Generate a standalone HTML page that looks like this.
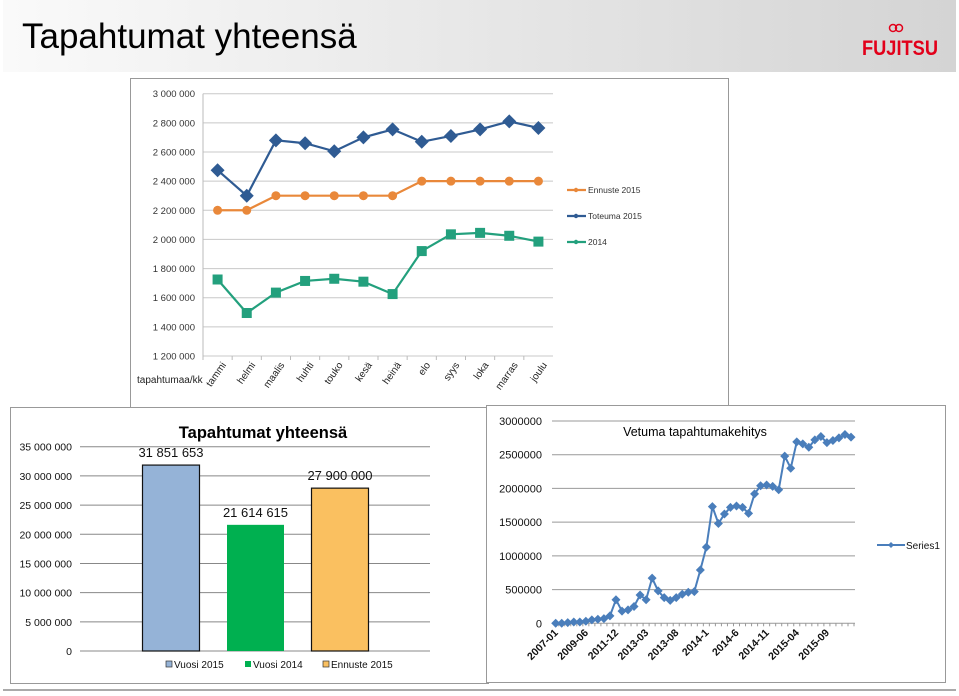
<!DOCTYPE html>
<html><head><meta charset="utf-8"><style>
body{margin:0;width:959px;height:696px;background:#fff;overflow:hidden;font-family:"Liberation Sans",sans-serif}
svg{position:absolute;left:0;top:0}
</style></head><body>
<svg width="959" height="696">
<defs><linearGradient id="hg" x1="0" x2="1"><stop offset="0" stop-color="#fafafa"/><stop offset="1" stop-color="#d4d4d4"/></linearGradient></defs>
<rect x="3" y="0" width="953" height="72" fill="url(#hg)"/>
<text x="22" y="48" font-size="35" fill="#000">Tapahtumat yhteensä</text>
<g>
<text x="862" y="55" font-size="21" font-weight="bold" fill="#e2001a" textLength="76" lengthAdjust="spacingAndGlyphs">FUJITSU</text>
<circle cx="893" cy="28" r="3.5" fill="none" stroke="#e2001a" stroke-width="1.5"/><circle cx="899" cy="28" r="3.5" fill="none" stroke="#e2001a" stroke-width="1.5"/>
</g>
<line x1="3" y1="690" x2="956" y2="690" stroke="#aaa" stroke-width="2"/>
<rect x="130.5" y="78.5" width="598" height="330" fill="#fff" stroke="#999"/>
<g id="top"></g>
<rect x="10.5" y="407.5" width="478" height="276" fill="#fff" stroke="#999"/>
<g id="bl"></g>
<rect x="486.5" y="405.5" width="459" height="277" fill="#fff" stroke="#999"/>
<g id="br"></g>
</svg>
<script>
const months=["tammi","helmi","maalis","huhti","touko","kesä","heinä","elo","syys","loka","marras","joulu"];
const toteuma2015=[2475000,2300000,2680000,2660000,2605000,2700000,2755000,2670000,2710000,2755000,2810000,2765000];
const ennuste2015=[2200000,2200000,2300000,2300000,2300000,2300000,2300000,2400000,2400000,2400000,2400000,2400000];
const vuosi2014=[1725000,1495000,1635000,1715000,1730000,1710000,1625000,1920000,2035000,2045000,2025000,1985000];
const topTicks=[1200000,1400000,1600000,1800000,2000000,2200000,2400000,2600000,2800000,3000000];
const totalCats=["Vuosi 2015","Vuosi 2014","Ennuste 2015"];
const totalVals=[31851653,21614615,27900000];
const totalLabels=["31 851 653","21 614 615","27 900 000"];
const totalTicks=[0,5000000,10000000,15000000,20000000,25000000,30000000,35000000];
const trendLabels=["2007-01","2009-06","2011-12","2013-03","2013-08","2014-1","2014-6","2014-11","2015-04","2015-09"];
const trendVals=[0,0,10000,20000,20000,30000,50000,60000,70000,110000,350000,180000,200000,250000,420000,350000,670000,480000,380000,340000,380000,430000,460000,470000,790000,1130000,1730000,1480000,1620000,1720000,1740000,1720000,1630000,1920000,2040000,2050000,2030000,1980000,2480000,2300000,2690000,2660000,2610000,2720000,2770000,2680000,2710000,2750000,2800000,2760000];
const trendTicks=[0,500000,1000000,1500000,2000000,2500000,3000000];
const NS="http://www.w3.org/2000/svg";
function mk(p,t,a,txt){const e=document.createElementNS(NS,t);for(const k in a)e.setAttribute(k,a[k]);if(txt!=null)e.textContent=txt;p.appendChild(e);return e;}
function sp(n){return String(n).replace(/\B(?=(\d{3})+(?!\d))/g," ");}
// TOP
(function(){
const g=document.getElementById('top');
const x0=203,x1=553,yA=356,yB=93.7,vmin=1200000,vmax=3000000;
const y=v=>yA-(v-vmin)/(vmax-vmin)*(yA-yB);
const step=(x1-x0)/months.length;const x=i=>x0+step*(i+0.5);
topTicks.forEach(t=>{
 let l=mk(g,'line',{x1:x0,x2:x1,y1:y(t),y2:y(t),stroke:'#c8c8c8','stroke-width':1});
 
 let tx=mk(g,'text',{x:195,y:y(t)+3.5,'font-size':9.5,'text-anchor':'end',fill:'#333'},sp(t));
 
});
mk(g,'line',{x1:x0,x2:x0,y1:yB,y2:yA,stroke:'#bbb'});
months.forEach((m,i)=>{
 mk(g,'line',{x1:x0+step*i,x2:x0+step*i,y1:yA,y2:yA+4,stroke:'#bbb'});
 const ax=x(i)+9,ay=yA+9;
 let tx=mk(g,'text',{x:ax,y:ay,'font-size':10,'text-anchor':'end',fill:'#222',transform:`rotate(-55 ${ax} ${ay})`},m);
 
});
let xt=mk(g,'text',{x:137,y:383,'font-size':10,fill:'#222'},'tapahtumaa/kk');

const series=[[ennuste2015,'#e9883a','c',"Ennuste 2015",190],[toteuma2015,'#2f5b93','d',"Toteuma 2015",216],[vuosi2014,'#23a07d','s',"2014",242]];
series.forEach(([d,c,sh,name,ly])=>{
 let p=mk(g,'polyline',{points:d.map((v,i)=>x(i)+','+y(v)).join(' '),fill:'none',stroke:c,'stroke-width':2.2});
 
 d.forEach((v,i)=>{const cx=x(i),cy=y(v);let e;
  if(sh=='c')e=mk(g,'circle',{cx,cy,r:4.5,fill:c});
  else if(sh=='d')e=mk(g,'polygon',{points:`${cx},${cy-7} ${cx+7},${cy} ${cx},${cy+7} ${cx-7},${cy}`,fill:c});
  else e=mk(g,'rect',{x:cx-5,y:cy-5,width:10,height:10,fill:c});
  });
 mk(g,'line',{x1:567,x2:586,y1:ly,y2:ly,stroke:c,'stroke-width':2.2});
 mk(g,'circle',{cx:576,cy:ly,r:2.2,fill:c});
 let t=mk(g,'text',{x:588,y:ly+3,'font-size':8.5,fill:'#333'},name);
 
});
})();
// BOTTOM LEFT
(function(){
const g=document.getElementById('bl');
const x0=80,x1=430,yA=651,yB=446.7,vmax=35000000;
const y=v=>yA-v/vmax*(yA-yB);
let tt=mk(g,'text',{x:263,y:438,'font-size':16.5,'font-weight':'bold','text-anchor':'middle',fill:'#000'},'Tapahtumat yhteensä');

totalTicks.forEach(t=>{
 let l=mk(g,'line',{x1:x0,x2:x1,y1:y(t),y2:y(t),stroke:'#888','stroke-width':1});
 
 let tx=mk(g,'text',{x:72,y:y(t)+4,'font-size':10.5,'text-anchor':'end',fill:'#111'},sp(t));
 
});
const cols=['#95b3d7','#00b050','#fac060'];const bw=57,bstart=128.75,step=84.5;
totalVals.forEach((v,i)=>{
 const cx=bstart+step*(i+0.5);
 let r=mk(g,'rect',{x:cx-bw/2,y:y(v),width:bw,height:yA-y(v),fill:cols[i],stroke:i==1?'none':'#111','stroke-width':1.2});
 
 let t=mk(g,'text',{x:cx,y:y(v)-8,'font-size':13,'text-anchor':'middle',fill:'#111'},totalLabels[i]);
 
});
const lx=[166,245,323];
totalCats.forEach((c,i)=>{
 mk(g,'rect',{x:lx[i],y:661,width:6,height:6,fill:cols[i],stroke:i==1?'none':'#333','stroke-width':0.7});
 let t=mk(g,'text',{x:lx[i]+8,y:668,'font-size':10,fill:'#111'},c);
 
});
})();
// BOTTOM RIGHT
(function(){
const g=document.getElementById('br');
const xf=555.7,xl=851,yA=623.3,yB=421,vmax=3000000;
const y=v=>yA-v/vmax*(yA-yB);
const step=(xl-xf)/(trendVals.length-1);const x=i=>xf+step*i;
let tt=mk(g,'text',{x:695,y:436,'font-size':12.5,'text-anchor':'middle',fill:'#000'},'Vetuma tapahtumakehitys');

trendTicks.forEach(t=>{
 let l=mk(g,'line',{x1:552,x2:855,y1:y(t),y2:y(t),stroke:'#999','stroke-width':1});
 
 let tx=mk(g,'text',{x:542,y:y(t)+4,'font-size':11,'text-anchor':'end',fill:'#111'},String(t));
 
});
trendVals.forEach((v,i)=>{mk(g,'line',{x1:x(i)+step/2,x2:x(i)+step/2,y1:yA,y2:yA+3,stroke:'#999'});});
trendLabels.forEach((lab,k)=>{
 const i=k*5;const tx0=x(i)+3,ty=yA+10;
 let t=mk(g,'text',{x:tx0,y:ty,'font-size':10.5,'font-weight':'bold','text-anchor':'end',fill:'#111',transform:`rotate(-45 ${tx0} ${ty})`},lab);
 
});
let p=mk(g,'polyline',{points:trendVals.map((v,i)=>x(i)+','+y(v)).join(' '),fill:'none',stroke:'#4a7ebb','stroke-width':2});

trendVals.forEach((v,i)=>{const cx=x(i),cy=y(v);
 let e=mk(g,'polygon',{points:`${cx},${cy-4.5} ${cx+4.5},${cy} ${cx},${cy+4.5} ${cx-4.5},${cy}`,fill:'#4a7ebb'});
 });
mk(g,'line',{x1:877,x2:905,y1:545,y2:545,stroke:'#4a7ebb','stroke-width':2});
mk(g,'polygon',{points:'891,542 894,545 891,548 888,545',fill:'#4a7ebb'});
let lt=mk(g,'text',{x:906,y:549,'font-size':10,fill:'#111'},'Series1');

})();
</script>
</body></html>
